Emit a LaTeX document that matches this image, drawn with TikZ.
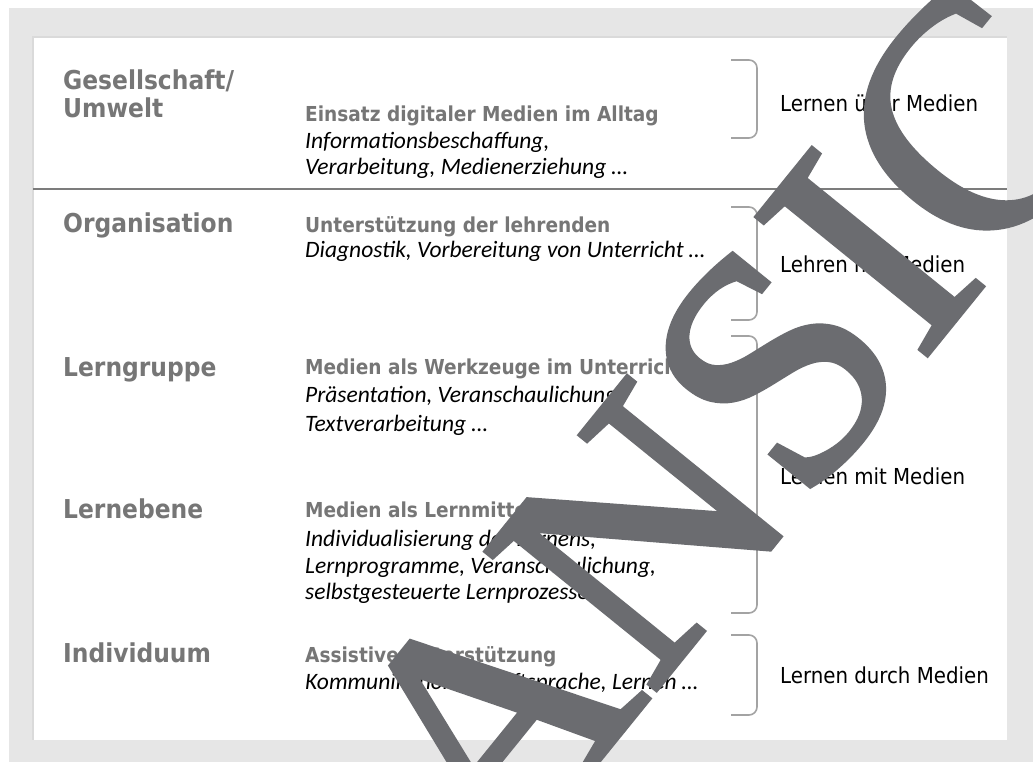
\documentclass[tikz,border=0pt]{standalone}
\usepackage{fontspec}
\newfontfamily\ebenefont{DejaVu Sans Condensed}
\newfontfamily\beispielfont{Carlito}
\newfontfamily\stempelfont[FakeBold=1.5]{Liberation Serif}
\usetikzlibrary{positioning, calc}
\definecolor{rahmengrau}  {HTML}{E6E6E6}
\definecolor{schattengrau}{HTML}{DADADA}
\definecolor{titelgrau}   {HTML}{767676}
\definecolor{liniengrau}  {HTML}{7C7C7C}
\definecolor{klammergrau} {HTML}{A3A3A3}
\definecolor{stempelgrau} {HTML}{6B6C70}
\tikzset{
  ebene/.style={anchor=base west, inner sep=0pt, align=left, text=titelgrau,
    font=\ebenefont\bfseries\fontsize{26}{28}\selectfont},
  thema/.style={anchor=base west, inner sep=0pt, text=titelgrau,
    font=\ebenefont\bfseries\fontsize{20.6}{24}\selectfont},
  beispiel/.style={anchor=base west, inner sep=0pt, align=left,
    font=\beispielfont\itshape\fontsize{23.5}{26.5}\selectfont},
  medien/.style={anchor=base west, inner sep=0pt,
    font=\ebenefont\fontsize{22}{26}\selectfont},
  klammer/.style={draw=klammergrau, line width=1.6pt, rounded corners=8pt},
  stempel/.style={rotate=51, inner sep=0pt, text=stempelgrau,
    font=\stempelfont\fontsize{335}{335}\selectfont}
}
\newcommand{\medienklammer}[2]{\draw[klammer] (731,#1) -- (757,#1) -- (757,#2) -- (731,#2);}
\begin{document}
\begin{tikzpicture}[x=1pt, y=1pt]

  \useasboundingbox (0,0) rectangle (1033,762);
  \clip (0,0) rectangle (1033,762);

  %% FRAME
  \fill[white] (0,0) rectangle (1033,762);
  \fill[rahmengrau] (9,0) rectangle (1033,754);
  \fill[white] (33,22) rectangle (1007,725);
  \draw[schattengrau, line width=1.5pt] (33,22) -- (33,725) -- (1007,725);
  \coordinate (trenn-l) at (33,573);
  \coordinate (trenn-r) at (1007,573);
  \draw[liniengrau, line width=1.5pt] (trenn-l) -- (trenn-r);

  %% LEFT COLUMN (multi-line nodes sit on their last baseline)
  \node[ebene] (gesellschaft) at (63,644) {Gesellschaft/\\Umwelt};
  \node[ebene] (organisation) at (63,529) {Organisation};
  \node[ebene] (lerngruppe)   at (63,385) {Lerngruppe};
  \node[ebene] (lernebene)    at (63,243) {Lernebene};
  \node[ebene] (individuum)   at (63,99)  {Individuum};

  %% MIDDLE COLUMN
  \node[thema] (alltag) at (305,640) {Einsatz digitaler Medien im Alltag};
  \node[beispiel] (alltag-bsp) at ($(alltag.base west)+(0,-53)$)
    {Informationsbeschaffung,\\Verarbeitung, Medienerziehung \dots};

  \node[thema] (lehrende) at (305,529) {Unterstützung der lehrenden};
  \node[beispiel] (lehrende-bsp) at ($(lehrende.base west)+(0,-25)$)
    {Diagnostik, Vorbereitung von Unterricht \dots};

  \node[thema] (werkzeuge) at (305,387) {Medien als Werkzeuge im Unterricht};
  \node[beispiel] (werkzeuge-bsp) at ($(werkzeuge.base west)+(0,-57)$)
    {Präsentation, Veranschaulichung,\\[2.5pt]Textverarbeitung \dots};

  \node[thema] (lernmittel) at (305,244) {Medien als Lernmittel};
  \node[beispiel] (lernmittel-bsp) at ($(lernmittel.base west)+(0,-82)$)
    {Individualisierung des Lernens,\\Lernprogramme, Veranschaulichung,\\selbstgesteuerte Lernprozesse \dots};

  \node[thema] (assistiv) at (305,99) {Assistive Unterstützung};
  \node[beispiel] (assistiv-bsp) at ($(assistiv.base west)+(0,-27)$)
    {Kommunikation, Schriftsprache, Lernen \dots};

  %% RIGHT COLUMN
  \medienklammer{702}{624}
  \medienklammer{555}{442}
  \medienklammer{426}{149}
  \medienklammer{127}{47}

  \node[medien] (ueber)  at (780,650) {Lernen über Medien};
  \node[medien] (lehren) at (780,489) {Lehren mit Medien};
  \node[medien] (mit)    at (780,277) {Lernen mit Medien};
  \node[medien] (durch)  at (780,78)  {Lernen durch Medien};

  %% STAMP
  \node[stempel] (ansicht) at (870,510) {ANSICHT};

\end{tikzpicture}
\end{document}
